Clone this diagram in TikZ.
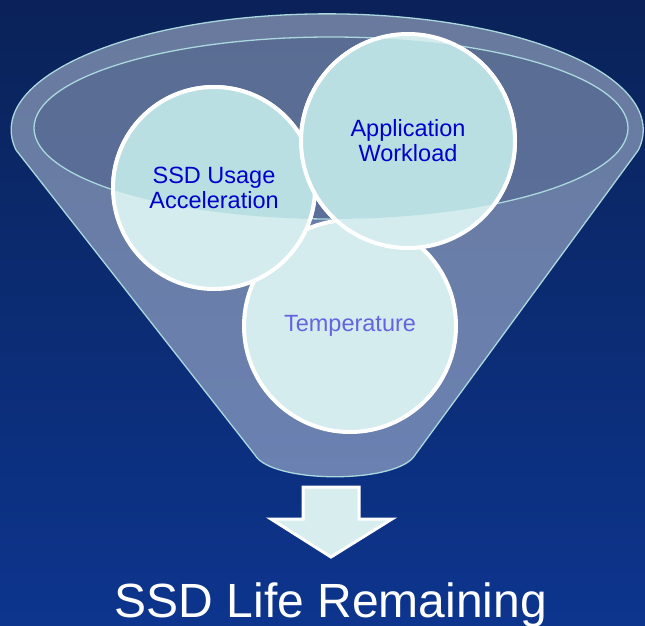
\documentclass[tikz,border=0pt]{standalone}
\usepackage{fontspec}
\setmainfont{Liberation Sans}
\usepackage{xcolor}
\usetikzlibrary{calc}
\definecolor{bgTop}{RGB}{10,34,88}
\definecolor{bgBottom}{RGB}{13,53,142}
\definecolor{funnelFill}{RGB}{200,210,226}
\definecolor{rimLine}{RGB}{170,216,222}
\definecolor{rimShade}{RGB}{20,40,90}
\definecolor{bubbleFill}{RGB}{212,236,238}
\definecolor{bubbleShade}{RGB}{185,223,226}
\definecolor{textBlue}{RGB}{0,0,204}
\definecolor{textLight}{RGB}{100,100,222}
\definecolor{arrowFill}{RGB}{216,238,238}
\tikzset{%
    funnel/.style={fill=funnelFill,fill opacity=0.5,draw=rimLine,draw opacity=1,line width=1.3pt},
    bubble/.style={inner sep=0pt,outer sep=0pt,shape=circle,draw=white,line width=4pt,fill=bubbleFill},
    shaded bubble/.style={draw=white,line width=4pt,fill=bubbleShade},
    bubble text/.style={align=center,font=\fontsize{23.5}{25}\selectfont},
    downarrow/.style={draw=white,line width=3pt,fill=arrowFill,line join=miter},
}

\begin{document}
\begin{tikzpicture}[x=1pt,y=-1pt]
        \useasboundingbox (0,0) rectangle (645,626);
        \shade[top color=bgTop,bottom color=bgBottom] (0,0) rectangle (645,626);

        % funnel body and rim
        \draw[funnel] (16,150) arc[start angle=170,end angle=370,x radius=316,y radius=116] -- (415,455)
            .. controls (398,484) and (272,484) .. (255,455) -- cycle;
        \fill[rimShade,opacity=0.17] (331,128) ellipse [x radius=297,y radius=91];
        \draw[rimLine,line width=1.3pt] (331,128) ellipse [x radius=297,y radius=91];

        \node[bubble,minimum size=212pt] (bubbleTemp) at (350,326) {};
        \node[bubble,minimum size=202pt] (bubbleUsage) at (214,188) {};
        \node[bubble,minimum size=214pt] (bubbleWorkload) at (408,141) {};

        % part of the bubbles inside the rim
        \begin{scope}
            \clip (331,128) ellipse [x radius=297,y radius=91];
            \draw[shaded bubble] (bubbleTemp.center) circle[radius=106];
            \draw[shaded bubble] (bubbleUsage.center) circle[radius=101];
            \draw[shaded bubble] (bubbleWorkload.center) circle[radius=107];
        \end{scope}

        \node[bubble text,text=textLight] (textTemp) at (bubbleTemp) {Temperature};
        \node[bubble text,text=textBlue] (textUsage) at (bubbleUsage) {SSD Usage\\Acceleration};
        \node[bubble text,text=textBlue] (textWorkload) at (bubbleWorkload) {Application\\Workload};

        \draw[downarrow] (303,487) coordinate (shaftA) -- (359,487) -- (359,519) -- (392,519)
            -- (331,557) coordinate (arrowTip) -- (271,519) -- (303,519) -- cycle;

        \node[text=white,font=\fontsize{48}{52}\selectfont,anchor=base] (labelLife) at (331,617) {SSD Life Remaining};
    \end{tikzpicture}
\end{document}
